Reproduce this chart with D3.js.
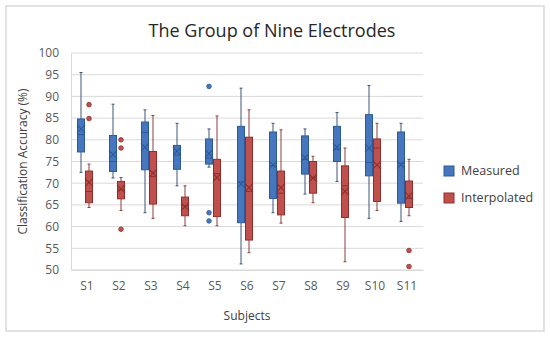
<!DOCTYPE html>
<html>
<head>
<meta charset="utf-8">
<script src="https://cdn.jsdelivr.net/npm/d3@7"></script>
<style>
  body { margin: 0; background: #fff; }
  text { font-family: "Open Sans", "Noto Sans", sans-serif; }
</style>
</head>
<body>
<svg width="550" height="338"></svg>
<script>
// subjects on the x axis
const subjects = ["S1", "S2", "S3", "S4", "S5", "S6", "S7", "S8", "S9", "S10", "S11"];
const seriesNames = ["Measured", "Interpolated"];
const yTicks = [50, 55, 60, 65, 70, 75, 80, 85, 90, 95, 100];

// [min, q1, median, q3, max] per subject
const measured = [
  [72.5, 77.2, 81.2, 84.8, 95.5],
  [71.2, 72.7, 75.0, 81.0, 88.2],
  [63.2, 73.1, 81.7, 84.1, 86.9],
  [69.4, 73.2, 76.5, 78.7, 83.8],
  [73.7, 74.4, 75.8, 80.2, 82.5],
  [51.4, 60.9, 70.3, 83.1, 91.9],
  [63.2, 66.5, 74.0, 81.8, 83.8],
  [67.5, 72.1, 75.5, 80.9, 82.5],
  [70.4, 75.0, 77.8, 83.1, 86.3],
  [61.9, 71.7, 74.8, 85.8, 92.5],
  [61.2, 65.4, 74.6, 81.8, 83.8]
];
const measuredMean = [82.5, 76.6, 78.3, 77.4, 76.8, 69.8, 74.2, 75.9, 78.3, 78.1, 74.3];
const measuredOutliers = [[], [], [], [], [92.3, 63.2, 61.3], [], [], [], [], [], []];

const interpolated = [
  [64.4, 65.5, 68.1, 72.8, 74.4],
  [63.7, 66.4, 68.5, 70.4, 71.3],
  [61.9, 65.2, 71.5, 77.3, 85.6],
  [60.2, 62.5, 64.8, 66.8, 69.4],
  [60.2, 62.3, 72.2, 75.5, 85.5],
  [54.0, 56.9, 68.1, 80.6, 86.9],
  [60.8, 62.7, 67.7, 72.8, 82.3],
  [65.5, 67.7, 71.3, 75.0, 76.2],
  [51.9, 62.1, 69.4, 74.0, 78.1],
  [63.7, 65.8, 78.1, 80.2, 83.8],
  [62.5, 64.4, 66.5, 70.5, 75.5]
];
const interpolatedMean = [70.2, 68.7, 72.3, 64.6, 71.3, 69.0, 69.0, 71.2, 68.1, 74.2, 67.1];
const interpolatedOutliers = [[88.1, 84.9], [80.0, 78.1, 59.4], [], [], [], [], [], [], [], [], [54.5, 50.8]];

const svg = d3.select("svg");

// chart frame
svg.append("rect")
  .attr("x", 6).attr("y", 6)
  .attr("width", 538).attr("height", 325)
  .attr("fill", "#fff")
  .attr("stroke", "#d9d9d9")
  .attr("stroke-width", 1.5);

const plot = {left: 71, right: 423, top: 53, bottom: 270};

const x = d3.scaleBand().domain(subjects).range([plot.left, plot.right]);
const xs = d3.scaleBand().domain(seriesNames).range([6, 22]);  // inside each category
const y = d3.scaleLinear().domain([50, 100]).range([plot.bottom, plot.top]);

const fills = {Measured: "#4677be", Interpolated: "#c0504d"};
const strokes = {Measured: "#2c5a97", Interpolated: "#8e2f2c"};
const whisk = {Measured: "#3f5478", Interpolated: "#8b3f3d"};

// gridlines
svg.append("g")
  .selectAll("line")
  .data(yTicks)
  .join("line")
  .attr("x1", plot.left).attr("x2", plot.right)
  .attr("y1", d => y(d)).attr("y2", d => y(d))
  .attr("stroke", "#d9d9d9")
  .attr("stroke-width", 1);

// y axis
const yAxis = svg.append("g")
  .attr("transform", `translate(${plot.left},0)`)
  .call(d3.axisLeft(y).tickValues(yTicks).tickSize(0).tickPadding(12));
yAxis.select(".domain").attr("stroke", "#d9d9d9");
yAxis.selectAll("text").attr("fill", "#595959").style("font-size", "12px");

// x axis
const xAxis = svg.append("g")
  .attr("transform", `translate(0,${plot.bottom})`)
  .call(d3.axisBottom(x).tickSize(0).tickPadding(11));
xAxis.select(".domain").attr("stroke", "#d9d9d9");
xAxis.selectAll("text").attr("fill", "#595959").style("font-size", "12px");

// build box records
const boxes = [];
subjects.forEach((s, i) => {
  boxes.push({s, series: "Measured", v: measured[i], mean: measuredMean[i], out: measuredOutliers[i]});
  boxes.push({s, series: "Interpolated", v: interpolated[i], mean: interpolatedMean[i], out: interpolatedOutliers[i]});
});

const g = svg.append("g")
  .selectAll("g")
  .data(boxes)
  .join("g")
  .attr("transform", d => `translate(${x(d.s) + xs(d.series)},0)`);

const bw = xs.bandwidth();
const cx = bw / 2;

// whiskers
g.append("line")
  .attr("x1", cx).attr("x2", cx)
  .attr("y1", d => y(d.v[4])).attr("y2", d => y(d.v[3]))
  .attr("stroke", d => whisk[d.series]).attr("stroke-width", 1);
g.append("line")
  .attr("x1", cx).attr("x2", cx)
  .attr("y1", d => y(d.v[1])).attr("y2", d => y(d.v[0]))
  .attr("stroke", d => whisk[d.series]).attr("stroke-width", 1);
// caps
[0, 4].forEach(k => {
  g.append("line")
    .attr("x1", cx - 1.5).attr("x2", cx + 1.5)
    .attr("y1", d => y(d.v[k])).attr("y2", d => y(d.v[k]))
    .attr("stroke", d => whisk[d.series]).attr("stroke-width", 1);
});

// box
g.append("rect")
  .attr("x", 0.5).attr("width", bw - 1)
  .attr("y", d => y(d.v[3]))
  .attr("height", d => y(d.v[1]) - y(d.v[3]))
  .attr("fill", d => fills[d.series])
  .attr("stroke", d => strokes[d.series])
  .attr("stroke-width", 1);

// median
g.append("line")
  .attr("x1", 0.5).attr("x2", bw - 0.5)
  .attr("y1", d => y(d.v[2])).attr("y2", d => y(d.v[2]))
  .attr("stroke", d => strokes[d.series]).attr("stroke-width", 1);

// mean marker (x)
g.append("path")
  .attr("d", d => {
    const m = y(d.mean), h = 4;
    return `M${cx - h},${m - h}L${cx + h},${m + h}M${cx - h},${m + h}L${cx + h},${m - h}`;
  })
  .attr("stroke", d => strokes[d.series]).attr("stroke-width", 1.1).attr("fill", "none");

// outliers
g.selectAll("circle")
  .data(d => d.out.map(o => ({o, series: d.series})))
  .join("circle")
  .attr("cx", cx).attr("cy", d => y(d.o))
  .attr("r", 2.3)
  .attr("fill", d => fills[d.series])
  .attr("stroke", d => strokes[d.series]).attr("stroke-width", 0.8);

// title
svg.append("text")
  .attr("x", 272).attr("y", 37)
  .attr("text-anchor", "middle")
  .attr("fill", "#262626")
  .style("font-size", "18px")
  .text("The Group of Nine Electrodes");

// axis titles
svg.append("text")
  .attr("transform", `translate(27,${(plot.top + plot.bottom) / 2}) rotate(-90)`)
  .attr("text-anchor", "middle")
  .attr("fill", "#404040")
  .style("font-size", "12px")
  .text("Classification Accuracy (%)");

svg.append("text")
  .attr("x", (plot.left + plot.right) / 2).attr("y", 320)
  .attr("text-anchor", "middle")
  .attr("fill", "#404040")
  .style("font-size", "12px")
  .text("Subjects");

// legend
const legend = svg.append("g")
  .selectAll("g")
  .data(seriesNames)
  .join("g")
  .attr("transform", (d, i) => `translate(444,${166 + i * 27})`);
legend.append("rect")
  .attr("width", 10).attr("height", 10)
  .attr("fill", d => fills[d])
  .attr("stroke", d => strokes[d]);
legend.append("text")
  .attr("x", 17).attr("y", 5)
  .attr("dy", "0.35em")
  .attr("fill", "#404040")
  .style("font-size", "12.5px")
  .text(d => d);
</script>
</body>
</html>
